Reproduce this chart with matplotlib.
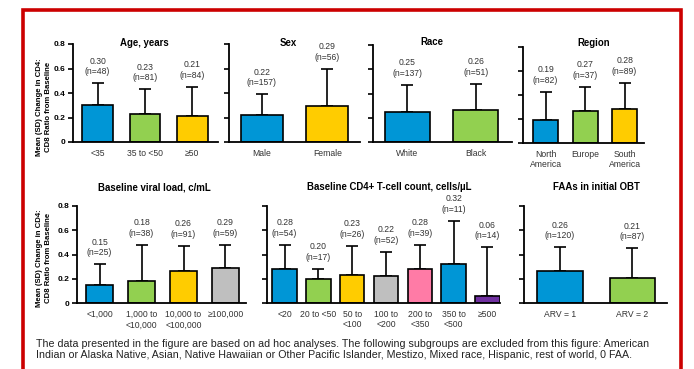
import matplotlib
matplotlib.use('Agg')
import matplotlib.pyplot as plt
from matplotlib.patches import Rectangle
import numpy as np

plt.rcParams['font.family'] = ['Liberation Sans', 'DejaVu Sans']

# colours used in the original slide
BLUE = '#0096D6'
GREEN = '#92D050'
YELLOW = '#FFCC00'
GREY = '#BFBFBF'
PINK = '#FF7BA6'
PURPLE = '#7030A0'

# ---- data (mean change, SD, n) ----
age_labels = ['<35', '35 to <50', '≥50']
age_mean = [0.30, 0.23, 0.21]
age_sd = [0.18, 0.20, 0.24]
age_n = [48, 81, 84]

sex_labels = ['Male', 'Female']
sex_mean = [0.22, 0.29]
sex_sd = [0.17, 0.31]
sex_n = [157, 56]

race_labels = ['White', 'Black']
race_mean = [0.25, 0.26]
race_sd = [0.22, 0.22]
race_n = [137, 51]

region_labels = ['North\nAmerica', 'Europe', 'South\nAmerica']
region_mean = [0.19, 0.27, 0.28]
region_sd = [0.235, 0.20, 0.22]
region_n = [82, 37, 89]

vl_labels = ['<1,000', '1,000 to\n<10,000', '10,000 to\n<100,000', '≥100,000']
vl_mean = [0.15, 0.18, 0.26, 0.29]
vl_sd = [0.17, 0.30, 0.21, 0.19]
vl_n = [25, 38, 91, 59]

cd4_labels = ['<20', '20 to <50', '50 to\n<100', '100 to\n<200', '200 to\n<350',
              '350 to\n<500', '≥500']
cd4_mean = [0.28, 0.20, 0.23, 0.22, 0.28, 0.32, 0.06]
cd4_sd = [0.20, 0.08, 0.24, 0.20, 0.20, 0.36, 0.40]
cd4_n = [54, 17, 26, 52, 39, 11, 14]

faa_labels = ['ARV = 1', 'ARV = 2']
faa_mean = [0.26, 0.21]
faa_sd = [0.20, 0.24]
faa_n = [120, 87]

W, H = 694, 369
fig = plt.figure(figsize=(W / 100, H / 100), dpi=100)

# red frame round the slide
fig.patches.append(Rectangle((23 / W, -0.05), (681 - 23) / W, 1.05 - 10 / H,
                             transform=fig.transFigure, fill=False,
                             edgecolor='#CC0000', linewidth=2.6, clip_on=False))


def panel(x0, x1, ytop, yzero, title, title_x, title_y, labels, mean, sd, n, colors,
          xlim, width=0.65, ylabels=False):
    ax = fig.add_axes([x0 / W, 1 - yzero / H, (x1 - x0) / W, (yzero - ytop) / H])
    x = np.arange(len(mean))
    ax.bar(x, mean, width=width, color=colors, edgecolor='black', linewidth=1.2,
           zorder=2)
    ax.errorbar(x, mean, yerr=[np.zeros(len(sd)), sd], fmt='none', ecolor='black',
                elinewidth=1.2, capsize=4.5, capthick=1.2, zorder=1)
    for i in range(len(mean)):
        ax.annotate(f'{mean[i]:.2f}\n(n={n[i]})', (x[i], mean[i] + sd[i]),
                    xytext=(0, 5), textcoords='offset points', ha='center',
                    va='bottom', fontsize=6.2, color='#333333', linespacing=1.25,
                    annotation_clip=False)
    ax.set_xlim(*xlim)
    ax.set_ylim(0, 0.8)
    ax.set_yticks([0, 0.2, 0.4, 0.6, 0.8])
    if ylabels:
        ax.set_yticklabels(['0', '0.2', '0.4', '0.6', '0.8'], fontsize=6,
                           fontweight='bold')
    else:
        ax.set_yticklabels([])
    ax.set_xticks(x)
    ax.set_xticklabels(labels, fontsize=6.2, color='#333333', linespacing=1.2)
    ax.tick_params(axis='x', length=0, pad=5)
    ax.tick_params(axis='y', length=3.5, width=1.2, direction='out', pad=2)
    for s in ['top', 'right']:
        ax.spines[s].set_visible(False)
    for s in ['left', 'bottom']:
        ax.spines[s].set_linewidth(1.3)
    ax.patch.set_alpha(0)
    fig.text(title_x / W, 1 - title_y / H, title, ha='center', va='center',
             fontsize=6.9, fontweight='bold')
    return ax


# top row
panel(73, 218, 44, 142, 'Age, years', 144, 43, age_labels, age_mean, age_sd, age_n,
      [BLUE, GREEN, YELLOW], (-0.52, 2.54), ylabels=True)
panel(229, 360, 44, 142, 'Sex', 288, 43, sex_labels, sex_mean, sex_sd, sex_n,
      [BLUE, YELLOW], (-0.5, 1.5), width=0.64)
panel(373, 512, 45, 142, 'Race', 432, 42, race_labels, race_mean, race_sd, race_n,
      [BLUE, GREEN], (-0.5, 1.53), width=0.66)
panel(523, 644, 47, 143, 'Region', 594, 43, region_labels, region_mean, region_sd,
      region_n, [BLUE, GREEN, YELLOW], (-0.57, 2.49), width=0.63)

# bottom row
panel(77, 246, 206, 303, 'Baseline viral load, c/mL', 154, 187, vl_labels, vl_mean,
      vl_sd, vl_n, [BLUE, GREEN, YELLOW, GREY], (-0.54, 3.49), ylabels=True)
panel(267, 500, 206, 303, 'Baseline CD4+ T-cell count, cells/µL', 389, 187,
      cd4_labels, cd4_mean, cd4_sd, cd4_n,
      [BLUE, GREEN, YELLOW, GREY, PINK, BLUE, PURPLE], (-0.52, 6.37), width=0.72)
panel(524, 667, 206, 303, 'FAAs in initial OBT', 596, 187, faa_labels, faa_mean,
      faa_sd, faa_n, [BLUE, GREEN], (-0.5, 1.48), width=0.63)

ylab = 'Mean (SD) Change in CD4:\nCD8 Ratio from Baseline'
fig.text(44 / W, 1 - 107 / H, ylab, rotation=90, ha='center', va='center',
         fontsize=5.6, fontweight='bold', linespacing=1.35)
fig.text(44 / W, 1 - 258 / H, ylab, rotation=90, ha='center', va='center',
         fontsize=5.6, fontweight='bold', linespacing=1.35)

note = ('The data presented in the figure are based on ad hoc analyses. The following '
        'subgroups are excluded from this figure: American\nIndian or Alaska Native, '
        'Asian, Native Hawaiian or Other Pacific Islander, Mestizo, Mixed race, '
        'Hispanic, rest of world, 0 FAA.')
fig.text(36 / W, 1 - 349.5 / H, note, ha='left', va='center', fontsize=7.7,
         linespacing=1.2, color='#222222')

fig.savefig('out.png', dpi=100)
